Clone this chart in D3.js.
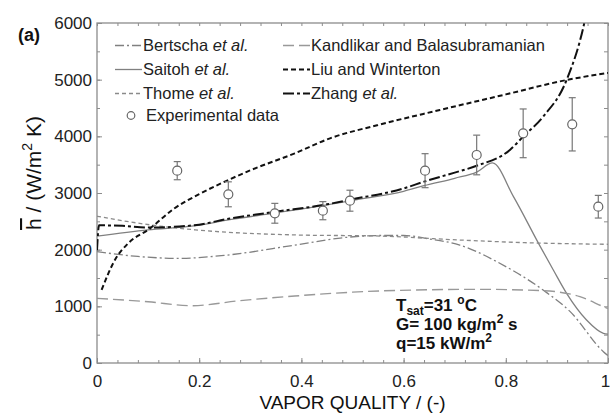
<!DOCTYPE html>
<html>
<head>
<meta charset="utf-8">
<script src="https://cdn.jsdelivr.net/npm/d3@7"></script>
<style>
  body { margin: 0; background: #fff; }
  text { font-family: "Liberation Sans", Arial, sans-serif; }
</style>
</head>
<body>
<div id="chart"></div>
<script>
// Plot constants
const WIDTH = 610;
const HEIGHT = 417;
const LEFT = 97, RIGHT = 608, TOP = 23, BOTTOM = 363;

// Data (x = vapor quality, y = h in W/m2 K)
const bertscha = [[0,1965],[0.08,1880],[0.159,1847],[0.25,1900],[0.387,2080],[0.489,2218],[0.554,2250],[0.6,2250],[0.65,2190],[0.71,2080],[0.743,1965],[0.776,1818],[0.873,1288],[0.926,906],[0.991,200],[1,130]];
const saitoh = [[0,2240],[0.1,2350],[0.19,2420],[0.26,2530],[0.35,2650],[0.45,2790],[0.5,2870],[0.6,3030],[0.64,3130],[0.7,3260],[0.743,3370],[0.774,3530],[0.815,2935],[0.864,2112],[0.893,1641],[0.919,1229],[0.958,759],[0.991,524],[1,510]];
const thome = [[0,2590],[0.094,2450],[0.192,2350],[0.387,2260],[0.554,2240],[0.71,2170],[0.85,2120],[1,2095]];
const kandlikar = [[0,1140],[0.1,1080],[0.185,1011],[0.28,1100],[0.387,1182],[0.5,1250],[0.583,1280],[0.75,1300],[0.873,1276],[0.945,1170],[0.991,994],[1,960]];
const liu = [[0.009,1290],[0.035,1818],[0.061,2112],[0.104,2376],[0.15,2720],[0.2,2980],[0.257,3229],[0.3,3400],[0.387,3700],[0.456,3965],[0.55,4200],[0.671,4465],[0.8,4740],[0.919,4994],[1,5120]];
const zhang = [[0,1990],[0.004,2430],[0.05,2420],[0.1,2390],[0.19,2430],[0.26,2550],[0.35,2670],[0.45,2800],[0.5,2890],[0.6,3080],[0.64,3200],[0.7,3360],[0.743,3480],[0.808,3760],[0.834,3995],[0.873,4347],[0.919,4994],[0.952,5935],[0.965,6500]];

const expX = [0.157, 0.257, 0.348, 0.442, 0.495, 0.642, 0.743, 0.834, 0.930, 0.981];
const expY = [3394, 2977, 2642, 2688, 2864, 3394, 3671, 4053, 4212, 2758];
const expErr = [160, 220, 175, 160, 185, 300, 350, 430, 470, 200];

const xTicks = [0, 0.2, 0.4, 0.6, 0.8, 1];
const yTicks = [0, 1000, 2000, 3000, 4000, 5000, 6000];

const series = [
  { name: "Bertscha", etal: true, data: bertscha, color: "#808080", width: 1.3, dash: "9,3,2,3", col: 0, row: 0 },
  { name: "Saitoh", etal: true, data: saitoh, color: "#808080", width: 1.3, dash: null, col: 0, row: 1 },
  { name: "Thome", etal: true, data: thome, color: "#8a8a8a", width: 1.3, dash: "4,3", col: 0, row: 2 },
  { name: "Kandlikar and Balasubramanian", etal: false, data: kandlikar, color: "#999", width: 1.4, dash: "11,5", col: 1, row: 0 },
  { name: "Liu and Winterton", etal: false, data: liu, color: "#111", width: 2, dash: "5,3", col: 1, row: 1 },
  { name: "Zhang", etal: true, data: zhang, color: "#111", width: 2, dash: "11,3,3,3", col: 1, row: 2 }
];

const svg = d3.select("#chart").append("svg")
  .attr("width", WIDTH)
  .attr("height", HEIGHT);

const x = d3.scaleLinear().domain([0, 1]).range([LEFT, RIGHT]);
const y = d3.scaleLinear().domain([0, 6000]).range([BOTTOM, TOP]);

svg.append("defs").append("clipPath").attr("id", "clip")
  .append("rect")
  .attr("x", LEFT).attr("y", TOP)
  .attr("width", RIGHT - LEFT).attr("height", BOTTOM - TOP);

// Axes (ticks pointing inward)
const minorX = d3.range(0, 1.0001, 0.04);
const minorY = d3.range(0, 6001, 500);
const axisColor = "#8c8c8c";

function styleAxis(g) {
  g.select(".domain").remove();
  g.selectAll(".tick line").attr("stroke", axisColor);
  g.selectAll("text").attr("fill", "#222").style("font-size", "17px");
}

svg.append("g").attr("transform", `translate(0,${BOTTOM})`)
  .call(d3.axisBottom(x).tickValues(minorX).tickSize(-3).tickFormat(""))
  .call(styleAxis);
const xAxisG = svg.append("g").attr("transform", `translate(0,${BOTTOM})`)
  .call(d3.axisBottom(x).tickValues(xTicks).tickSize(-5).tickPadding(12).tickFormat(d => d))
  .call(styleAxis);
// last label sits on the right edge, nudge it in a little
xAxisG.selectAll(".tick text").filter(d => d === 1).attr("dx", -3);
svg.append("g").attr("transform", `translate(0,${TOP})`)
  .call(d3.axisTop(x).tickValues(minorX).tickSize(-3).tickFormat(""))
  .call(styleAxis);

svg.append("g").attr("transform", `translate(${LEFT},0)`)
  .call(d3.axisLeft(y).tickValues(minorY).tickSize(-3).tickFormat(""))
  .call(styleAxis);
svg.append("g").attr("transform", `translate(${LEFT},0)`)
  .call(d3.axisLeft(y).tickValues(yTicks).tickSize(-5).tickPadding(5).tickFormat(d => d))
  .call(styleAxis);
svg.append("g").attr("transform", `translate(${RIGHT},0)`)
  .call(d3.axisRight(y).tickValues(minorY).tickSize(-4).tickFormat(""))
  .call(styleAxis);

svg.append("rect")
  .attr("x", LEFT).attr("y", TOP)
  .attr("width", RIGHT - LEFT).attr("height", BOTTOM - TOP)
  .attr("fill", "none").attr("stroke", axisColor).attr("stroke-width", 1.3);

// Curves
const line = d3.line()
  .x(d => x(d[0]))
  .y(d => y(d[1]))
  .curve(d3.curveMonotoneX);

svg.append("g").attr("clip-path", "url(#clip)")
  .selectAll("path")
  .data(series)
  .join("path")
  .attr("d", d => line(d.data))
  .attr("fill", "none")
  .attr("stroke", d => d.color)
  .attr("stroke-width", d => d.width)
  .attr("stroke-dasharray", d => d.dash);

// Experimental data with error bars
const exp = expX.map((v, i) => ({ x: v, y: expY[i], e: expErr[i] }));
const eg = svg.append("g").selectAll("g").data(exp).join("g");
eg.append("line")
  .attr("x1", d => x(d.x)).attr("x2", d => x(d.x))
  .attr("y1", d => y(d.y + d.e)).attr("y2", d => y(d.y - d.e))
  .attr("stroke", "#777").attr("stroke-width", 1.2);
eg.selectAll(".cap").data(d => [[d.x, d.y + d.e], [d.x, d.y - d.e]]).join("line")
  .attr("x1", d => x(d[0]) - 3.5).attr("x2", d => x(d[0]) + 3.5)
  .attr("y1", d => y(d[1])).attr("y2", d => y(d[1]))
  .attr("stroke", "#777").attr("stroke-width", 1.2);
eg.append("circle")
  .attr("cx", d => x(d.x)).attr("cy", d => y(d.y)).attr("r", 4.5)
  .attr("fill", "#fff").attr("stroke", "#666").attr("stroke-width", 1.2);

// Legend
const colX = [115, 283];
const rowY = [51, 75, 99, 121];
const sampleW = 27;
const legend = svg.append("g");
series.forEach(s => {
  const ly = rowY[s.row];
  legend.append("line")
    .attr("x1", colX[s.col]).attr("x2", colX[s.col] + sampleW)
    .attr("y1", ly - 5.5).attr("y2", ly - 5.5)
    .attr("stroke", s.color).attr("stroke-width", s.width)
    .attr("stroke-dasharray", s.dash);
  const t = legend.append("text")
    .attr("x", colX[s.col] + sampleW + 1).attr("y", ly)
    .attr("fill", "#222").style("font-size", "16.5px");
  t.append("tspan").text(s.name);
  if (s.etal) t.append("tspan").style("font-style", "italic").text(" et al.");
});
legend.append("circle")
  .attr("cx", colX[0] + 16).attr("cy", rowY[3] - 5.5).attr("r", 3.8)
  .attr("fill", "#fff").attr("stroke", "#666").attr("stroke-width", 1.2);
legend.append("text")
  .attr("x", colX[0] + sampleW + 4).attr("y", rowY[3])
  .attr("fill", "#222").style("font-size", "16.5px")
  .text("Experimental data");

// Panel label
svg.append("text").attr("x", 18).attr("y", 41)
  .style("font-size", "18px").style("font-weight", "bold").attr("fill", "#111")
  .text("(a)");

// Axis titles
svg.append("text")
  .attr("x", (LEFT + RIGHT) / 2).attr("y", 409)
  .attr("text-anchor", "middle").attr("fill", "#111")
  .style("font-size", "19px")
  .text("VAPOR QUALITY / (-)");

const yl = svg.append("text")
  .attr("transform", "translate(41,173) rotate(-90)")
  .attr("text-anchor", "middle").attr("fill", "#111")
  .style("font-size", "21px");
yl.append("tspan").style("text-decoration", "overline").text("h");
yl.append("tspan").text(" / (W/m");
yl.append("tspan").attr("dy", -9).style("font-size", "14px").text("2");
yl.append("tspan").attr("dy", 9).text(" K)");

// Conditions annotation
const ann = svg.append("g").attr("fill", "#111")
  .style("font-size", "17px").style("font-weight", "bold");
const a1 = ann.append("text").attr("x", 396).attr("y", 311);
a1.append("tspan").text("T");
a1.append("tspan").attr("dy", 4).style("font-size", "12px").text("sat");
a1.append("tspan").attr("dy", -4).text("=31 ");
a1.append("tspan").attr("dy", -7).style("font-size", "12px").text("o");
a1.append("tspan").attr("dy", 7).text("C");
const a2 = ann.append("text").attr("x", 396).attr("y", 330);
a2.append("tspan").text("G= 100 kg/m");
a2.append("tspan").attr("dy", -7).style("font-size", "12px").text("2");
a2.append("tspan").attr("dy", 7).text(" s");
const a3 = ann.append("text").attr("x", 396).attr("y", 349);
a3.append("tspan").text("q=15 kW/m");
a3.append("tspan").attr("dy", -7).style("font-size", "12px").text("2");
</script>
</body>
</html>
